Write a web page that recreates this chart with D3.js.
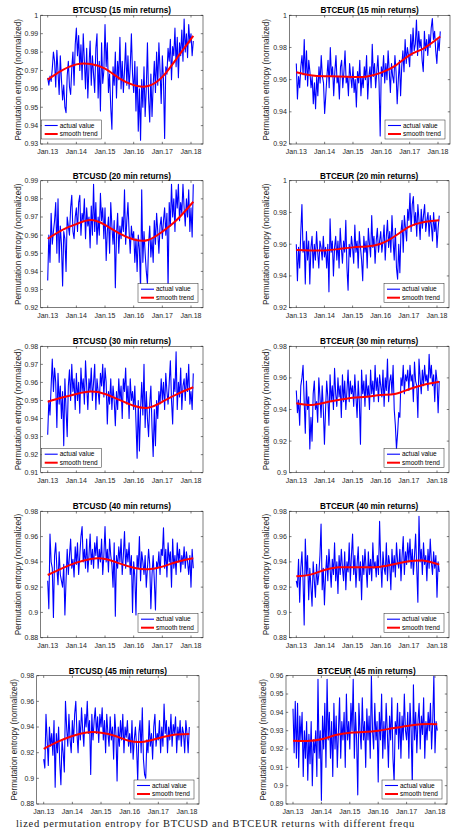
<!DOCTYPE html>
<html>
<head>
<meta charset="utf-8">
<script src="https://cdn.jsdelivr.net/npm/d3@7"></script>
<style>
  body { margin: 0; background: #fff; }
  svg { display: block; }
  text { font-family: "Liberation Sans", Arial, Helvetica, sans-serif; }
</style>
</head>
<body>
<svg id="fig" width="460" height="828"></svg>
<script>
// ---- data ----
// samples every ~2 weeks starting Jan 2013
const START = 2013, STEP = 0.04;
const xTickYears = [2013, 2014, 2015, 2016, 2017, 2018];
const xTickLabels = ['Jan.13', 'Jan.14', 'Jan.15', 'Jan.16', 'Jan.17', 'Jan.18'];
const trendYears = [2013, 2013.5, 2014, 2014.5, 2015, 2015.5, 2016, 2016.5, 2017, 2017.5, 2018.08];

const usd15 = [
  .966,.962,.967,.964,.971,.980,.975,.961,.981,.969,.957,.978,.965,.954,.962,.950,.947,.967,.975,.961,.957,.971,.980,.962,.984,
  .993,.978,.989,.970,.984,.965,.990,.975,.960,.982,.955,.972,.986,.962,.978,.968,.958,.982,.990,.955,.975,.948,.985,.963,.970,
  .995,.972,.985,.958,.968,.950,.938,.972,.962,.980,.955,.975,.965,.988,.960,.975,.958,.970,.985,.962,.978,.960,.972,.990,.968,
  .958,.975,.948,.972,.937,.960,.932,.965,.950,.972,.945,.960,.985,.955,.942,.968,.945,.962,.975,.958,.980,.962,.985,.970,.952,
  .978,.965,.933,.972,.968,.982,.975,.987,.965,.983,.978,.993,.972,.988,.966,.985,.978,.992,.975,.998,.980,.990,.977,.995,.985,
  .990,.978,.986];
const usd15Trend = [.965, .970, .9733, .9735, .971, .9657, .962, .9615, .9665, .9765, .9888];

const eur15 = [
  .970,.948,.962,.955,.968,.975,.963,.985,.960,.978,.956,.972,.965,.955,.962,.945,.958,.942,.962,.950,.968,.958,.975,.962,.958,
  .939,.950,.962,.972,.955,.980,.962,.968,.950,.965,.975,.958,.962,.948,.968,.972,.955,.965,.978,.958,.962,.950,.970,.962,.955,
  .968,.952,.960,.943,.965,.958,.972,.950,.962,.955,.968,.960,.975,.948,.962,.968,.955,.982,.962,.970,.955,.965,.975,.958,.925,
  .968,.962,.975,.958,.970,.960,.978,.965,.952,.970,.962,.958,.975,.965,.945,.960,.972,.950,.968,.978,.965,.985,.970,.980,.975,
  .968,.988,.975,.992,.978,.982,.997,.975,.990,.980,.985,.972,.965,.990,.978,.985,.975,.988,.980,.992,.998,.985,.990,.978,.970,
  .985,.978,.990];
const eur15Trend = [.9646, .9627, .9621, .962, .9617, .962, .9644, .9687, .9753, .9795, .9868];

const usd20 = [
  .935,.960,.945,.972,.955,.962,.968,.978,.950,.980,.945,.965,.955,.932,.962,.958,.940,.970,.965,.960,.975,.982,.962,.958,.970,
  .975,.962,.978,.982,.960,.972,.968,.980,.958,.975,.965,.970,.953,.976,.960,.988,.962,.978,.955,.970,.960,.983,.968,.975,.958,
  .975,.946,.962,.970,.950,.978,.965,.955,.968,.931,.960,.972,.950,.965,.958,.970,.962,.985,.955,.968,.978,.962,.950,.965,.958,
  .962,.945,.958,.940,.960,.952,.930,.985,.945,.962,.950,.940,.933,.955,.965,.948,.958,.945,.968,.955,.972,.962,.950,.965,.970,
  .958,.968,.975,.960,.972,.931,.978,.965,.988,.970,.980,.962,.985,.975,.988,.968,.978,.972,.988,.975,.965,.980,.970,.985,.962,
  .975,.959,.988];
const usd20Trend = [.958, .9628, .9661, .9683, .9656, .961, .9576, .9573, .9619, .9683, .9784];

const eur20 = [
  .960,.937,.958,.945,.968,.985,.955,.962,.935,.968,.950,.962,.935,.958,.965,.945,.960,.950,.968,.955,.945,.962,.958,.950,.965,
  .952,.958,.945,.960,.930,.976,.955,.962,.940,.958,.965,.950,.962,.945,.970,.958,.948,.962,.955,.975,.945,.931,.960,.952,.965,
  .958,.948,.972,.955,.962,.945,.968,.958,.950,.937,.965,.955,.962,.945,.970,.960,.952,.978,.958,.965,.948,.962,.970,.955,.962,
  .968,.955,.962,.972,.950,.965,.975,.958,.968,.955,.978,.962,.950,.970,.945,.938,.960,.942,.968,.975,.955,.978,.970,.962,.982,
  .975,.992,.968,.985,.990,.972,.980,.965,.985,.975,.963,.982,.970,.978,.985,.968,.975,.980,.965,.978,.972,.962,.980,.968,.975,
  .958,.970,.978];
const eur20Trend = [.9563, .9561, .9561, .9569, .958, .9586, .9603, .965, .9709, .9738, .9751];

const usd30 = [
  .931,.950,.942,.958,.973,.955,.968,.960,.935,.965,.948,.958,.940,.955,.925,.962,.945,.930,.958,.967,.950,.970,.955,.962,.945,
  .965,.950,.960,.943,.968,.955,.962,.948,.972,.958,.945,.962,.955,.968,.950,.960,.970,.945,.962,.955,.948,.965,.958,.970,.952,
  .968,.960,.937,.955,.948,.962,.945,.958,.950,.936,.955,.945,.962,.950,.958,.940,.962,.955,.968,.948,.958,.940,.962,.950,.955,
  .945,.958,.938,.918,.950,.922,.945,.960,.942,.970,.935,.955,.940,.930,.948,.958,.935,.919,.945,.925,.950,.940,.955,.948,.962,
  .950,.960,.945,.965,.955,.948,.960,.972,.950,.937,.962,.955,.977,.945,.960,.952,.968,.945,.958,.962,.950,.965,.955,.970,.948,
  .955,.945,.965];
const usd30Trend = [.9493, .9516, .9536, .9549, .9536, .9503, .9471, .946, .9493, .9534, .9573];

const eur30 = [
  .952,.938,.946,.930,.955,.960,.968,.945,.925,.958,.940,.948,.915,.935,.920,.950,.958,.940,.945,.932,.960,.948,.935,.955,.940,
  .918,.940,.958,.948,.930,.962,.945,.955,.940,.966,.950,.942,.960,.948,.955,.935,.962,.945,.958,.940,.952,.965,.945,.958,.950,
  .955,.942,.962,.948,.935,.958,.945,.918,.965,.950,.958,.942,.962,.948,.955,.940,.965,.950,.958,.945,.968,.952,.960,.945,.962,
  .955,.948,.965,.942,.960,.952,.972,.945,.958,.962,.950,.968,.940,.930,.915,.925,.938,.935,.960,.955,.968,.950,.962,.958,.965,
  .952,.968,.958,.962,.945,.970,.958,.955,.935,.972,.960,.950,.965,.955,.968,.958,.962,.952,.975,.960,.968,.955,.962,.945,.965,
  .958,.938,.958];
const eur30Trend = [.9439, .9428, .9443, .946, .9475, .9481, .9492, .9498, .9528, .9555, .9575];

const usd40 = [
  .925,.903,.962,.940,.935,.896,.945,.955,.935,.922,.948,.930,.925,.920,.938,.898,.925,.950,.930,.945,.958,.935,.942,.928,.952,
  .938,.955,.930,.945,.960,.968,.940,.950,.935,.958,.932,.945,.962,.938,.950,.935,.955,.945,.960,.935,.950,.940,.958,.930,.945,
  .968,.940,.950,.932,.958,.945,.938,.920,.955,.897,.945,.935,.952,.940,.958,.930,.945,.964,.935,.950,.940,.955,.930,.945,.900,
  .940,.928,.898,.945,.935,.960,.925,.948,.940,.930,.945,.920,.935,.950,.938,.903,.930,.945,.925,.902,.940,.935,.948,.930,.950,
  .945,.967,.935,.950,.928,.955,.940,.948,.920,.958,.935,.945,.930,.955,.940,.950,.932,.945,.938,.952,.935,.948,.940,.930,.945,
  .920,.950,.935];
const usd40Trend = [.9296, .9349, .9394, .9423, .9423, .9388, .9354, .9341, .9362, .9399, .9428];

const eur40 = [
  .925,.920,.942,.908,.935,.948,.925,.890,.958,.930,.945,.910,.935,.920,.905,.940,.925,.912,.938,.922,.930,.945,.970,.918,.935,
  .906,.930,.945,.925,.950,.935,.920,.942,.930,.955,.925,.940,.915,.945,.930,.950,.935,.925,.948,.918,.940,.932,.955,.925,.945,
  .962,.930,.945,.920,.938,.952,.925,.940,.910,.945,.930,.950,.935,.920,.948,.930,.942,.925,.955,.935,.940,.928,.945,.930,.972,
  .940,.920,.948,.935,.930,.955,.925,.945,.938,.918,.950,.932,.945,.928,.955,.940,.935,.950,.925,.945,.960,.930,.948,.938,.955,
  .940,.958,.935,.950,.930,.945,.962,.935,.908,.976,.940,.950,.930,.955,.938,.945,.925,.950,.935,.958,.940,.930,.948,.935,.945,
  .912,.940,.932];
const eur40Trend = [.9286, .9299, .9336, .9357, .9357, .9357, .9362, .9383, .9404, .941, .9378];

const usd45 = [
  .915,.908,.950,.930,.910,.940,.925,.935,.918,.945,.893,.935,.920,.940,.912,.895,.930,.920,.905,.960,.940,.925,.950,.930,.920,
  .945,.928,.950,.960,.935,.920,.945,.930,.955,.938,.925,.950,.940,.960,.935,.945,.903,.950,.930,.945,.955,.935,.948,.928,.950,
  .940,.955,.930,.945,.920,.950,.935,.925,.948,.930,.940,.915,.950,.935,.898,.940,.925,.945,.930,.950,.920,.940,.932,.945,.925,
  .935,.920,.945,.915,.930,.940,.925,.898,.935,.945,.920,.955,.915,.903,.900,.930,.920,.945,.925,.935,.915,.940,.950,.925,.935,
  .930,.945,.920,.940,.925,.958,.935,.945,.920,.940,.930,.950,.925,.942,.935,.948,.920,.940,.930,.945,.925,.940,.935,.920,.945,
  .935,.920,.940];
const usd45Trend = [.923, .9286, .933, .9358, .9356, .933, .9291, .9286, .9312, .9338, .9345];

const eur45 = [
  .942,.918,.946,.915,.945,.910,.938,.925,.940,.905,.930,.915,.935,.903,.928,.912,.935,.900,.925,.918,.930,.905,.958,.915,.930,
  .892,.938,.920,.945,.910,.958,.925,.940,.915,.935,.905,.945,.920,.938,.910,.930,.948,.915,.935,.925,.940,.910,.950,.925,.935,
  .920,.945,.930,.958,.915,.940,.925,.895,.945,.930,.920,.948,.925,.935,.910,.942,.925,.938,.915,.960,.930,.920,.945,.925,.935,
  .902,.940,.925,.950,.915,.935,.920,.945,.930,.910,.938,.925,.948,.915,.902,.935,.928,.945,.920,.940,.915,.938,.925,.950,.930,
  .925,.940,.915,.945,.930,.900,.955,.925,.940,.918,.935,.945,.920,.938,.928,.948,.915,.935,.925,.940,.930,.945,.920,.935,.960,
  .918,.935,.930];
const eur45Trend = [.9245, .9244, .9253, .9276, .9289, .9293, .93, .9313, .9325, .9335, .9335];

const yTicks01 = (a, b) => d3.range(Math.round(a * 100), Math.round(b * 100) + 1).map(v => v / 100);
const yTicks02 = (a, b) => d3.range(Math.round(a * 100), Math.round(b * 100) + 1, 2).map(v => v / 100);

const panels = [
  { title: 'BTCUSD (15 min returns)', values: usd15, trend: usd15Trend, ticks: yTicks01(.93, 1), legend: 'sw' },
  { title: 'BTCEUR (15 min returns)', values: eur15, trend: eur15Trend, ticks: yTicks02(.92, 1), legend: 'se' },
  { title: 'BTCUSD (20 min returns)', values: usd20, trend: usd20Trend, ticks: yTicks01(.92, .99), legend: 'se' },
  { title: 'BTCEUR (20 min returns)', values: eur20, trend: eur20Trend, ticks: yTicks02(.92, 1), legend: 'se' },
  { title: 'BTCUSD (30 min returns)', values: usd30, trend: usd30Trend, ticks: yTicks01(.91, .98), legend: 'sw' },
  { title: 'BTCEUR (30 min returns)', values: eur30, trend: eur30Trend, ticks: yTicks02(.90, .98), legend: 'se' },
  { title: 'BTCUSD (40 min returns)', values: usd40, trend: usd40Trend, ticks: yTicks02(.88, .98), legend: 'se' },
  { title: 'BTCEUR (40 min returns)', values: eur40, trend: eur40Trend, ticks: yTicks02(.88, .98), legend: 'se' },
  { title: 'BTCUSD (45 min returns)', values: usd45, trend: usd45Trend, ticks: yTicks02(.88, .98), legend: 'se' },
  { title: 'BTCEUR (45 min returns)', values: eur45, trend: eur45Trend, ticks: yTicks01(.89, .96), legend: 'se' },
];

// ---- layout (pixel boxes of each axes, MATLAB style) ----
const rowsY = [[15.3, 144], [180.7, 307.7], [346.3, 472.7], [511.3, 637.7], [675.7, 804]];
const colsX = [[[40.7, 203], [289.3, 450]], [[40.7, 203], [289.3, 449]], [[40.7, 203], [289.3, 449]],
               [[40.7, 203], [289.3, 449]], [[36.7, 199], [286, 447]]];
const AX = '#262626', BLUE = '#0000ff', RED = '#ff0000';
const TICK = 2.2, FS = 7;

const svg = d3.select('#fig');
const defs = svg.append('defs');
const fmt = d => String(+d.toFixed(2));

panels.forEach((p, k) => {
  const r = Math.floor(k / 2), c = k % 2;
  const [y0, y1] = rowsY[r];
  const [x0, x1] = colsX[r][c];
  const w = x1 - x0;

  // x domain: Jan.13 sits ~7px in from the left edge, Jan.18 ~12px from the right
  const pxYear = (w - 19) / 5;
  const x = d3.scaleLinear().domain([2013 - 7 / pxYear, 2018 + 12 / pxYear]).range([x0, x1]);
  const y = d3.scaleLinear().domain([p.ticks[0], p.ticks[p.ticks.length - 1]]).range([y1, y0]);

  const g = svg.append('g');
  const clipId = 'clip' + k;
  defs.append('clipPath').attr('id', clipId)
    .append('rect').attr('x', x0).attr('y', y0).attr('width', w).attr('height', y1 - y0);

  // series
  const actual = d3.line().x((d, i) => x(START + i * STEP)).y(d => y(d));
  g.append('path').attr('clip-path', `url(#${clipId})`)
    .attr('d', actual(p.values)).attr('fill', 'none')
    .attr('stroke', BLUE).attr('stroke-width', 1.1).attr('stroke-linejoin', 'round');

  const smooth = d3.line().curve(d3.curveNatural).x((d, i) => x(trendYears[i])).y(d => y(d));
  g.append('path').attr('clip-path', `url(#${clipId})`)
    .attr('d', smooth(p.trend)).attr('fill', 'none')
    .attr('stroke', RED).attr('stroke-width', 2);

  // box
  g.append('rect').attr('x', x0).attr('y', y0).attr('width', w).attr('height', y1 - y0)
    .attr('fill', 'none').attr('stroke', AX).attr('stroke-width', 0.6);

  // ticks inward on all four sides
  const tk = g.append('g').attr('stroke', AX).attr('stroke-width', 0.6);
  xTickYears.forEach(t => {
    const xx = x(t);
    tk.append('line').attr('x1', xx).attr('x2', xx).attr('y1', y1).attr('y2', y1 - TICK);
    tk.append('line').attr('x1', xx).attr('x2', xx).attr('y1', y0).attr('y2', y0 + TICK);
  });
  p.ticks.forEach(t => {
    const yy = y(t);
    tk.append('line').attr('x1', x0).attr('x2', x0 + TICK).attr('y1', yy).attr('y2', yy);
    tk.append('line').attr('x1', x1).attr('x2', x1 - TICK).attr('y1', yy).attr('y2', yy);
  });

  // tick labels
  g.selectAll('text.xt').data(xTickYears).join('text').attr('class', 'xt')
    .attr('x', d => x(d)).attr('y', y1 + 9.8).attr('text-anchor', 'middle')
    .attr('font-size', FS).attr('fill', AX).text((d, i) => xTickLabels[i]);
  g.selectAll('text.yt').data(p.ticks).join('text').attr('class', 'yt')
    .attr('x', x0 - 2.5).attr('y', d => y(d) + 2.4).attr('text-anchor', 'end')
    .attr('font-size', FS).attr('fill', AX).text(fmt);

  // title + y label
  g.append('text').attr('x', (x0 + x1) / 2).attr('y', y0 - 2).attr('text-anchor', 'middle')
    .attr('font-size', 8.2).attr('font-weight', 'bold').attr('fill', '#000').text(p.title);
  g.append('text').attr('transform', `translate(${x0 - 20},${(y0 + y1) / 2}) rotate(-90)`)
    .attr('text-anchor', 'middle').attr('font-size', 8.2).attr('fill', AX)
    .text('Permutation entropy (normalized)');

  // legend
  const lw = 60, lh = 19;
  const lx = p.legend === 'sw' ? x0 + 1 : x1 - lw - 5;
  const ly = y1 - lh - 5;
  const lg = g.append('g').attr('transform', `translate(${lx},${ly})`);
  lg.append('rect').attr('width', lw).attr('height', lh).attr('fill', '#fff')
    .attr('stroke', AX).attr('stroke-width', 0.5);
  [['actual value', BLUE, 1.1], ['smooth trend', RED, 2]].forEach(([lab, col, sw], i) => {
    const yy = 5.5 + i * 8.5;
    lg.append('line').attr('x1', 3).attr('x2', 16).attr('y1', yy).attr('y2', yy)
      .attr('stroke', col).attr('stroke-width', sw);
    lg.append('text').attr('x', 18).attr('y', yy + 2.3).attr('font-size', 6.5).attr('fill', '#000').text(lab);
  });
});

// figure caption at the bottom edge of the page (serif, as in the source document)
svg.append('text').attr('x', 16).attr('y', 826.5)
  .style('font-family', '"Liberation Serif", "Times New Roman", serif').attr('font-size', 10.5)
  .attr('fill', '#222').attr('letter-spacing', 0.7)
  .text('lized permutation entropy for BTCUSD and BTCEUR returns with different frequ');
</script>
</body>
</html>
